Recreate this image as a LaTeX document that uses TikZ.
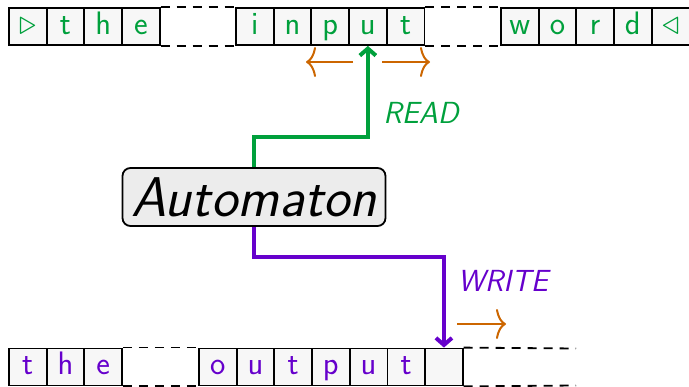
\documentclass[tikz,border=0pt]{standalone}
\usepackage{graphicx}
\usetikzlibrary{arrows.meta}
\definecolor{readc}{RGB}{0,160,60}
\definecolor{writec}{RGB}{102,0,204}
\definecolor{movec}{RGB}{204,102,0}
\newcommand{\bigtri}[1]{\raisebox{0pt}{\scalebox{1.4}{$#1$}}}
\begin{document}
\begin{tikzpicture}[x=1pt,y=-1pt,
  cell/.style={draw, line width=1.8pt, fill=gray!6, minimum width=37.7pt, minimum height=37pt,
    inner sep=0pt, anchor=west, font=\fontsize{32.5}{38}\sffamily, text height=21pt, text depth=5pt},
  gap/.style={line width=1.8pt, dash pattern=on 9pt off 7pt},
  headarrow/.style={line width=4pt, -{Straight Barb[length=7pt,width=16pt]}},
  movearrow/.style={movec, line width=2pt, -{To[length=10pt,width=30pt]}},
  lbl/.style={font=\fontsize{30.5}{36}\sffamily\itshape}]
\useasboundingbox (0,0) rectangle (689,387);
% top tape
\foreach \t [count=\i from 0] in {\bigtri{\triangleright},t,h,e}
  \node[cell,text=readc] (a\i) at ({8+37.7*\i},26.5) {\t};
\foreach \t [count=\i from 0] in {i,n,p,u,t}
  \node[cell,text=readc] (b\i) at ({235+37.7*\i},26.5) {\t};
\foreach \t [count=\i from 0] in {w,o,r,d,\bigtri{\triangleleft}}
  \node[cell,text=readc] (c\i) at ({500+37.7*\i},26.5) {\t};
\draw[gap] (a3.north east) -- (b0.north west);
\draw[gap] (a3.south east) -- (b0.south west);
\draw[gap] (b4.north east) -- (c0.north west);
\draw[gap] (b4.south east) -- (c0.south west);
% bottom tape
\foreach \t [count=\i from 0] in {t,h,e}
  \node[cell,text=writec] (d\i) at ({8+37.7*\i},367) {\t};
\foreach \t [count=\i from 0] in {o,u,t,p,u,t,{}}
  \node[cell,text=writec] (e\i) at ({198+37.7*\i},367) {\t};
\draw[gap] (d2.north east) -- (e0.north west);
\draw[gap] (d2.south east) -- (e0.south west);
\coordinate (endtop) at (576,348.5);
\coordinate (endbot) at (576,385.5);
\draw[gap] (e6.north east) -- (endtop);
\draw[gap] (e6.south east) -- (endbot);
% automaton
\node[draw, line width=1.8pt, fill=gray!15, rounded corners=8pt, minimum width=263pt, minimum height=58pt,
  inner sep=0pt, font=\fontsize{56}{64}\sffamily\itshape] (auto) at (254,197) {Automaton};
% read head
\draw[headarrow, readc] (auto.north) -- ++(0,-30) -| (b3.south);
\node[lbl, text=readc] (read) at (421,113) {READ};
% write head
\draw[headarrow, writec] (auto.south) -- ++(0,30) -| (e6.north);
\node[lbl, text=writec] (write) at (503,281) {WRITE};
% moves
\coordinate (ml1) at (353,62);
\coordinate (ml2) at (306,62);
\coordinate (mr1) at (382,62);
\coordinate (mr2) at (430,62);
\coordinate (mw1) at (457,324);
\coordinate (mw2) at (506,324);
\draw[movearrow] (ml1) -- (ml2);
\draw[movearrow] (mr1) -- (mr2);
\draw[movearrow] (mw1) -- (mw2);
\end{tikzpicture}
\end{document}
